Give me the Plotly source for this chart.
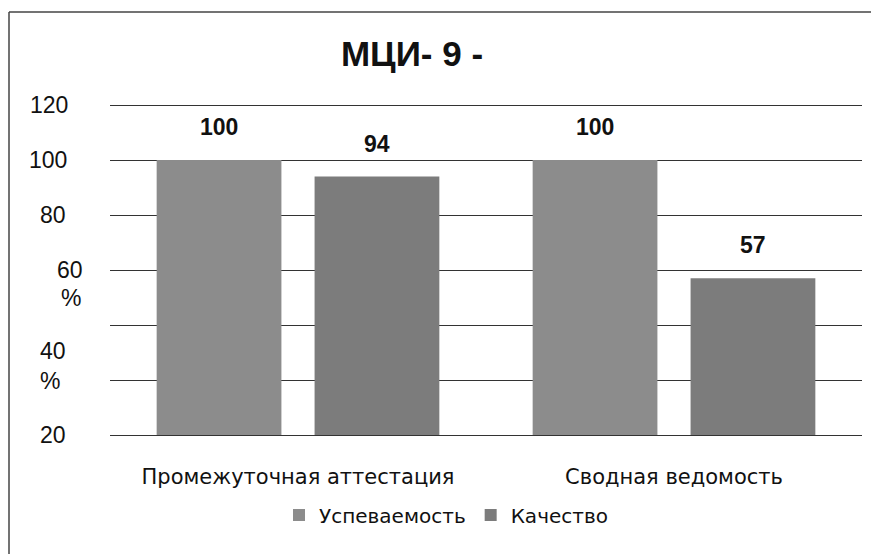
import plotly.graph_objects as go

categories = ["Промежуточная аттестация", "Сводная ведомость"]
uspev = [100, 100]
kachestvo = [94, 57]
series_names = ["Успеваемость", "Качество"]
title_text = "МЦИ- 9 -"
# quirky y-axis labels as they appear in the scan (label, value position)
ytick_text = ["120", "100", "80", "60", "%", "40", "%", "20"]
ytick_pos = [120, 100, 80, 60, 50, 30.5, 19.5, 0]

W, H = 871, 554
L, R, T, B = 110, 9, 104, 119
pw, ph = W - L - R, H - T - B
YMAX = 120.4

fig = go.Figure()
colors = ["#8c8c8c", "#7c7c7c"]
for name, vals, c in zip(series_names, [uspev, kachestvo], colors):
    fig.add_trace(go.Bar(
        x=categories, y=vals, name=name,
        marker=dict(color=c, line=dict(width=0)),
    ))

annotations = []
# data labels
for i, vals in enumerate([uspev, kachestvo]):
    for j, v in enumerate(vals):
        annotations.append(dict(
            x=categories[j], y=v, xref="x", yref="y",
            text=f"<b>{v}</b>", showarrow=False,
            xshift=(-1 if i == 0 else 1) * 79, yshift=33,
            font=dict(family="Liberation Sans, Arial", size=23, color="#111"),
        ))
# y labels
right_edges = {"120": 70, "100": 69, "80": 68, "60": 85, "40": 68, "20": 68}
pct_edges = [83, 62]
pi = 0
for t, p in zip(ytick_text, ytick_pos):
    if t == "%":
        re = pct_edges[pi]; pi += 1
    else:
        re = right_edges[t]
    annotations.append(dict(
        x=0, xref="paper", y=p, yref="y", xanchor="right", yanchor="middle",
        xshift=-(L - re), text=t, showarrow=False,
        font=dict(family="Liberation Sans, Arial", size=23, color="#111"),
    ))

def px2x(px):
    return (px - L) / pw

def py2y(py):
    return (H - B - py) / ph

shapes = [
    dict(type="line", xref="paper", yref="paper", x0=px2x(9), x1=px2x(871),
         y0=py2y(12), y1=py2y(12), line=dict(color="#444", width=1.5)),
    dict(type="line", xref="paper", yref="paper", x0=px2x(9), x1=px2x(9),
         y0=py2y(554), y1=py2y(12), line=dict(color="#444", width=1.5)),
]

fig.update_layout(
    width=W, height=H,
    margin=dict(l=L, r=R, t=T, b=B, autoexpand=False),
    paper_bgcolor="white", plot_bgcolor="white",
    barmode="group", bargap=0.16, bargroupgap=0.21,
    title=dict(text="<b>" + title_text + "</b>", x=412 / W, xanchor="center",
               y=1 - 54 / H, yanchor="middle",
               font=dict(family="Liberation Sans, Arial", size=35, color="#111")),
    xaxis=dict(showline=False, ticks="", ticklabelstandoff=27, automargin=False,
               tickfont=dict(family="DejaVu Sans", size=21, color="#111")),
    yaxis=dict(range=[0, YMAX], tickvals=[0, 20, 40, 60, 80, 100, 120],
               showticklabels=False, showgrid=True, gridcolor="#333", gridwidth=1,
               zeroline=True, zerolinecolor="#333", zerolinewidth=1, automargin=False),
    showlegend=True,
    legend=dict(orientation="h", x=446 / W, xanchor="center", xref="container",
                y=1 - 515 / H, yanchor="middle", yref="container",
                itemwidth=30, font=dict(family="DejaVu Sans", size=20, color="#111")),
    annotations=annotations, shapes=shapes,
)

fig.write_html("out.html", config={"displayModeBar": False},
               post_script="document.body.style.margin='0';document.body.style.overflow='hidden';")
